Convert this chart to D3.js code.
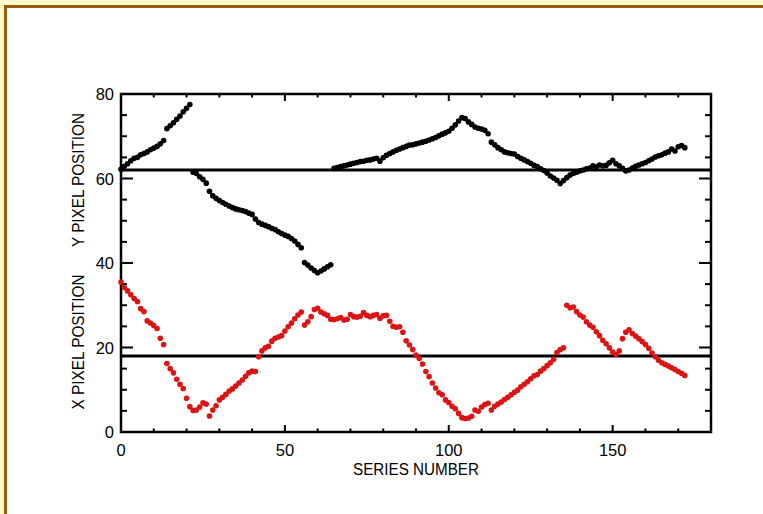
<html>
<head>
<script src='https://d3js.org/d3.v7.min.js'></script>
<style>
  body { margin: 0; background: #fffbc8; }
  text { font-family: 'Liberation Sans', Arial, sans-serif; fill: black; }
</style>
</head>
<body>
<svg width=763 height=514></svg>
<script>
// series values, one point per series number
var seriesNumber = d3.range(0, 173);

var yPos = [62.2,62.9,63.5,64.2,64.8,65.0,65.6,65.9,66.3,66.8,67.2,67.6,68.2,69.0,71.8,72.5,73.2,74.0,74.8,75.8,
  76.6,77.5,61.5,61.2,60.4,59.8,58.9,57.0,55.9,55.3,54.8,54.3,53.9,53.5,53.1,52.8,52.6,52.4,52.2,51.8,
  51.5,50.4,49.6,49.2,48.9,48.6,48.2,47.9,47.4,47.0,46.6,46.3,45.8,45.2,44.4,43.6,40.1,39.5,38.8,38.2,
  37.7,38.1,38.6,39.1,39.6,62.4,62.6,62.8,63.0,63.2,63.4,63.6,63.8,64.0,64.1,64.3,64.4,64.6,64.8,64.1,
  64.9,65.5,65.9,66.3,66.7,67.0,67.3,67.6,67.9,68.0,68.2,68.4,68.6,68.8,69.1,69.4,69.7,70.1,70.5,70.8,
  71.2,71.9,72.7,73.6,74.4,74.2,73.4,72.8,72.2,71.9,71.7,71.4,70.6,68.6,68.0,67.3,66.8,66.3,66.1,65.9,
  65.8,65.2,64.8,64.4,64.0,63.6,63.1,62.8,62.3,61.9,61.3,60.6,60.1,59.6,58.8,59.5,60.2,60.8,61.2,61.5,
  61.8,62.0,62.3,62.5,63.0,62.7,63.2,63.0,63.1,63.7,64.3,63.5,63.0,62.4,61.8,62.0,62.5,62.9,63.2,63.5,
  63.8,64.2,64.6,65.1,65.4,65.6,66.0,66.3,67.0,66.5,67.5,67.8,67.3];

var xPos = [35.5,34.2,33.4,32.5,31.6,30.9,29.2,28.5,26.3,25.8,25.2,24.5,22.2,20.7,16.2,15.0,14.0,12.5,11.3,10.3,
  8.0,6.0,5.1,5.2,5.9,6.9,6.6,3.8,5.2,6.2,7.6,8.2,8.9,9.7,10.2,10.9,11.6,12.3,13.2,14.0,
  14.4,14.3,17.8,19.2,19.9,20.3,21.5,22.2,22.5,22.8,23.9,24.9,25.8,26.8,27.7,28.4,25.3,26.1,27.3,29.0,
  29.3,28.4,28.0,27.6,26.7,26.6,26.8,27.1,26.5,26.7,27.8,27.3,27.2,27.4,28.3,27.6,27.3,27.6,27.8,26.9,
  27.5,27.6,26.2,25.0,24.8,24.9,23.6,21.6,20.6,19.5,18.2,17.4,16.1,14.3,13.1,11.6,10.4,9.3,8.8,7.6,
  7.0,6.1,5.5,4.4,3.4,3.2,3.3,3.7,5.2,4.9,5.9,6.5,6.8,5.2,6.1,6.6,7.1,7.7,8.2,8.8,
  9.4,9.9,10.7,11.3,11.9,12.6,13.3,13.6,14.4,15.0,15.7,16.4,17.2,18.8,19.5,19.9,30.0,29.4,29.6,28.5,
  27.7,27.2,26.1,25.3,24.8,23.7,22.8,21.7,20.9,19.9,18.9,18.4,19.2,22.1,23.6,24.2,23.3,22.7,22.1,21.4,
  20.7,19.8,18.7,17.8,17.0,16.4,16.0,15.6,15.2,14.8,14.3,13.9,13.4];

var refLines = [62, 18];
var xMajor = [0, 50, 100, 150];
var xMinor = [10, 20, 30, 40, 60, 70, 80, 90, 110, 120, 130, 140, 160, 170];
var yMajor = [0, 20, 40, 60, 80];
var yMinor = [5, 10, 15, 25, 30, 35, 45, 50, 55, 65, 70, 75];

var svg = d3.select('svg');

// page frame
svg.append('rect').attr('x', 5.5).attr('y', 6.5).attr('width', 800).attr('height', 600)
  .attr('fill', 'white').attr('stroke', '#9a5a12').attr('stroke-width', 3);

var x = d3.scaleLinear().domain([0, 180]).range([121, 711]);
var y = d3.scaleLinear().domain([0, 80]).range([432, 94]);

var g = svg.append('g');

// tick marks on all four sides, pointing inward
function ticks(vals, len, axis) {
  vals.forEach(function(v) {
    if (axis == 'x') {
      g.append('line').attr('x1', x(v)).attr('x2', x(v)).attr('y1', y(0)).attr('y2', y(0) - len)
        .attr('stroke', 'black').attr('stroke-width', 2);
      g.append('line').attr('x1', x(v)).attr('x2', x(v)).attr('y1', y(80)).attr('y2', y(80) + len)
        .attr('stroke', 'black').attr('stroke-width', 2);
    } else {
      g.append('line').attr('y1', y(v)).attr('y2', y(v)).attr('x1', x(0)).attr('x2', x(0) + len)
        .attr('stroke', 'black').attr('stroke-width', 2);
      g.append('line').attr('y1', y(v)).attr('y2', y(v)).attr('x1', x(180)).attr('x2', x(180) - len)
        .attr('stroke', 'black').attr('stroke-width', 2);
    }
  });
}
ticks(xMajor, 7, 'x');
ticks(xMinor, 3.5, 'x');
ticks(yMajor, 12, 'y');
ticks(yMinor, 6, 'y');

g.append('rect').attr('x', x(0)).attr('y', y(80)).attr('width', x(180) - x(0)).attr('height', y(0) - y(80))
  .attr('fill', 'none').attr('stroke', 'black').attr('stroke-width', 2.5);

// tick labels
g.selectAll('.xl').data(xMajor).enter().append('text')
  .attr('x', function(d) { return x(d); }).attr('y', 456)
  .attr('text-anchor', 'middle').style('font-size', '16.5px')
  .text(function(d) { return d; });
g.selectAll('.yl').data(yMajor).enter().append('text')
  .attr('x', 114).attr('y', function(d) { return y(d) + 6; })
  .attr('text-anchor', 'end').style('font-size', '16.5px')
  .text(function(d) { return d; });

// reference lines
g.selectAll('.ref').data(refLines).enter().append('line')
  .attr('x1', x(0)).attr('x2', x(180))
  .attr('y1', function(d) { return y(d); }).attr('y2', function(d) { return y(d); })
  .attr('stroke', 'black').attr('stroke-width', 3);

// points
g.selectAll('.yp').data(yPos).enter().append('circle')
  .attr('cx', function(d, i) { return x(seriesNumber[i]); })
  .attr('cy', function(d) { return y(d); })
  .attr('r', 2.8).attr('fill', 'black');
g.selectAll('.xp').data(xPos).enter().append('circle')
  .attr('cx', function(d, i) { return x(seriesNumber[i]); })
  .attr('cy', function(d) { return y(d); })
  .attr('r', 2.8).attr('fill', '#dc1414');

// axis titles
g.append('text').attr('x', 416).attr('y', 474.5).attr('text-anchor', 'middle')
  .style('font-size', '16px').attr('textLength', 126).attr('lengthAdjust', 'spacingAndGlyphs')
  .text('SERIES NUMBER');
g.append('text').attr('transform', 'translate(84,342) rotate(-90)').attr('text-anchor', 'middle')
  .style('font-size', '16px').attr('textLength', 135).attr('lengthAdjust', 'spacingAndGlyphs')
  .text('X PIXEL POSITION');
g.append('text').attr('transform', 'translate(84,180) rotate(-90)').attr('text-anchor', 'middle')
  .style('font-size', '16px').attr('textLength', 134).attr('lengthAdjust', 'spacingAndGlyphs')
  .text('Y PIXEL POSITION');
</script>
</body>
</html>
